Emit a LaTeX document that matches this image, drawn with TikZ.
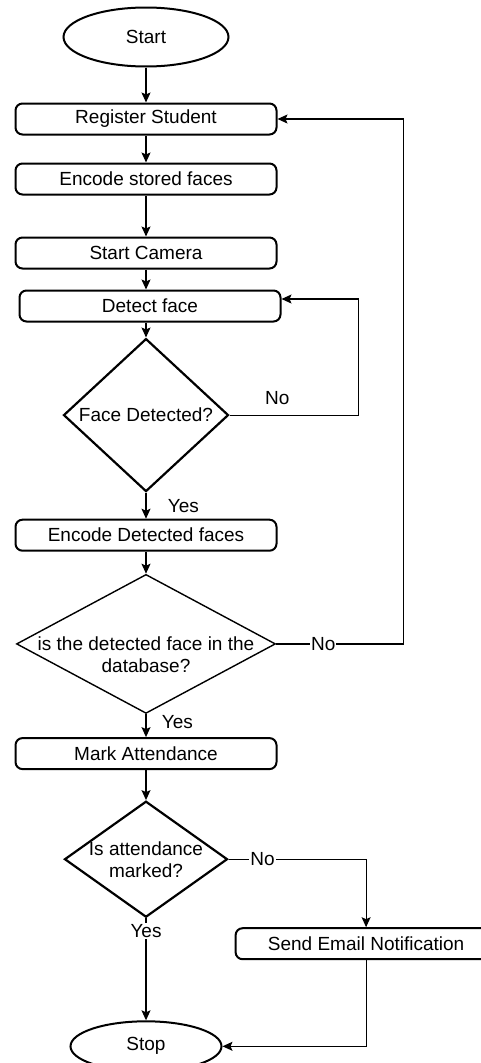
\documentclass[tikz,border=0pt]{standalone}
\usepackage{fontspec}
\setmainfont{Liberation Sans}
\usepackage{tikz}
\usetikzlibrary{positioning,calc,arrows.meta,shapes.geometric}

\tikzset{
	every node/.style={font=\fontsize{19}{22}\selectfont},
	procbox/.style={draw, rounded corners=7pt, line width=2pt, minimum width=261pt, minimum height=31pt, inner sep=0pt},
	terminal/.style={draw, ellipse, line width=2pt, inner sep=0pt},
	decision/.style={draw, diamond, inner sep=0pt, line width=2.2pt},
	flow/.style={-{Stealth[length=10pt,width=9pt,inset=2pt]}, line width=1.2pt},
	answer/.style={fill=white, inner sep=1pt}
}

\begin{document}
\begin{tikzpicture}[x=1pt, y=1pt, node distance=30pt]
		\useasboundingbox (0,0) rectangle (480,-1063);
		\node[terminal, minimum width=165pt, minimum height=59pt] (start) at (146,-37) {Start};
		\node[procbox, below = 35pt of start] (reg) {Register Student};
		\node[procbox, below = 27pt of reg] (enc) {Encode stored faces};
		\node[procbox, below = 41pt of enc] (cam) {Start Camera};
		\node[procbox, below = 20pt of cam, xshift=4pt] (detect) {Detect face};
		\node[decision, below = 15pt of detect, xshift=-4pt, minimum width=165pt, minimum height=153pt,
			label={center:Face Detected?}] (facedet) {};
		\node[procbox, below = 26pt of facedet] (encdet) {Encode Detected faces};
		\node[decision, below = 22pt of encdet, line width=1.4pt, minimum width=259pt, minimum height=139pt,
			label={[align=center, yshift=-11pt]center:is the detected face in the\\database?}] (indb) {};
		\node[procbox, below = 23pt of indb] (mark) {Mark Attendance};
		\node[decision, below = 30pt of mark, minimum width=163pt, minimum height=116pt,
			label={[align=center]center:Is attendance\\marked?}] (marked) {};
		\node[procbox, below right = 68pt and 6pt of marked.east] (email) {Send Email Notification};
		\node[terminal, below = 102pt of marked, minimum width=151pt, minimum height=50pt] (stop) {Stop};
		\draw[flow] (start) -- (reg);
		\draw[flow] (reg) -- (enc);
		\draw[flow] (enc) -- (cam);
		\draw[flow] (cam.south) -- (cam.south |- detect.north);
		\draw[flow] (facedet.north |- detect.south) -- (facedet);
		\draw[flow] (facedet) -- node[right=18pt] {Yes} (encdet);
		\draw[flow] (encdet) -- (indb);
		\draw[flow] (indb) -- node[right=12pt, pos=0.35] {Yes} (mark);
		\draw[flow] (mark) -- (marked);
		% loops back on No
		\draw[flow] (facedet.east) -- node[above=6pt, pos=0.37] {No} ++(129,0) |- ([yshift=7pt]detect.east);
		\draw[flow] (indb.east) -- node[answer, pos=0.37] {No} ++(127,0) |- (reg.east);
		\draw[flow] (marked.east) -- node[answer, pos=0.25] {No} ++(136,0) -| (email.north);
		\draw[flow] (marked.south) -- node[answer, pos=0.125] {Yes} (stop);
		\draw[flow] (email.south) |- (stop.east);
\end{tikzpicture}
\end{document}
